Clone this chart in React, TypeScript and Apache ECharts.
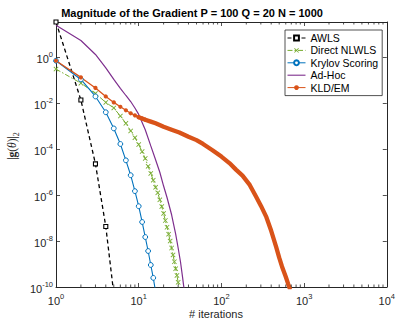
import React, { useEffect, useRef } from "react";
import * as echarts from "echarts";

// ---- data (iterations, gradient magnitudes) ----
const awlsIter = [1, 2, 3, 4, 5];
const awlsVal = [35, 1.4e-2, 2.3e-5, 4.3e-8, 5e-11];

const nlwlsIter = [1, 2, 3, 4, 5, 6, 7, 8, 9, 10, 11, 12, 13, 14, 15, 16, 17, 18, 19, 20, 21, 22, 23, 24, 25, 26, 27, 28, 29, 30, 31];
const nlwlsVal = [0.31, 7.6e-2, 2.7e-2, 1.1e-2, 6.3e-3, 2.8e-3, 1.35e-3, 6.3e-4, 3.2e-4, 1.6e-4, 7.9e-5, 4.0e-5, 1.8e-5, 8.9e-6, 4.5e-6, 2.2e-6, 1.26e-6, 6.3e-7, 3.2e-7, 1.6e-7, 7.9e-8, 4.0e-8, 2.0e-8, 1.0e-8, 5.0e-9, 2.5e-9, 1.26e-9, 6.3e-10, 3.2e-10, 1.6e-10, 7.9e-11];

const krylovIter = [1, 2, 3, 4, 5, 6, 7, 8, 9, 10, 11, 12, 13, 14, 15, 16];
const krylovVal = [0.72, 0.11, 2.0e-2, 4.1e-3, 8.1e-4, 1.7e-4, 3.3e-5, 7.4e-6, 1.5e-6, 3.3e-7, 6.8e-8, 1.5e-8, 3.7e-9, 9.1e-10, 2.5e-10, 6.3e-11];

const adhocIter = [1, 2, 3, 4, 5, 6, 7, 8, 9, 10, 12, 14, 16, 18, 20, 22, 25, 28, 30, 32, 34, 35, 36];
const adhocVal = [25, 5.5, 1.35, 0.35, 0.11, 4.5e-2, 2.2e-2, 1.2e-2, 6.3e-3, 3.3e-3, 7.1e-4, 1.4e-4, 3.5e-5, 1.0e-5, 2.5e-6, 7.9e-7, 1.4e-7, 2.0e-8, 5.0e-9, 1.26e-9, 2.5e-10, 1.1e-10, 5.0e-11];

const kldIter = [1, 2, 3, 4, 5, 6, 7, 8, 9, 10, 11, 12, 14, 16, 20, 25, 31, 40, 50, 60, 78, 100, 125, 150, 180, 220, 263, 300, 350, 400, 460, 500, 540, 600, 640, 670];
const kldVal = [0.72, 0.135, 4.7e-2, 2.0e-2, 1.1e-2, 7.1e-3, 5.0e-3, 3.7e-3, 3.0e-3, 2.5e-3, 2.2e-3, 1.95e-3, 1.6e-3, 1.35e-3, 9.5e-4, 7.1e-4, 5.4e-4, 3.5e-4, 2.5e-4, 1.7e-4, 9.1e-5, 4.8e-5, 2.5e-5, 1.3e-5, 7.1e-6, 2.8e-6, 8.5e-7, 3.5e-7, 1.1e-7, 2.8e-8, 5.5e-9, 1.9e-9, 7.9e-10, 2.8e-10, 1.4e-10, 8.9e-11];
const kldDotsUpTo = 12; // iterations drawn with separate dots

// ---- axes ----
const xTickExps = [0, 1, 2, 3, 4];
const yTickExps = [-10, -8, -6, -4, -2, 0];
const yTopValue = 35;

const seriesNames = ["AWLS", "Direct NLWLS", "Krylov Scoring", "Ad-Hoc", "KLD/EM"];
const FONT = "Liberation Sans";
const AX = "#262626";

const toPts = (it: number[], val: number[]) => it.map((n, i) => [Math.log10(n), Math.log10(val[i])]);

const X_PATH = "path://M0,1.2L1.2,0L5,3.8L8.8,0L10,1.2L6.2,5L10,8.8L8.8,10L5,6.2L1.2,10L0,8.8L3.8,5Z";
const LINE_ICON = "path://M0,0L18,0L18,1.1L0,1.1Z";

export default function App() {
  const ref = useRef<HTMLDivElement>(null);
  useEffect(() => {
    if (!ref.current) return;
    const chart = echarts.init(ref.current, undefined, { renderer: "svg" });
    const yMin = yTickExps[0];
    const yMax = Math.log10(yTopValue);
    const xMin = xTickExps[0];
    const xMax = xTickExps[xTickExps.length - 1];

    const minorTicks: number[][] = [];
    for (let d = xMin; d < xMax; d++) for (let k = 2; k <= 9; k++) minorTicks.push([d + Math.log10(k), yMin]);

    const pow = (isX: boolean) => (v: number) => {
      const r = Math.round(v);
      if (Math.abs(v - r) > 1e-6) return "";
      const list = isX ? xTickExps : yTickExps;
      if (!list.includes(r)) return "";
      return `{b|10}{s|${r}}`;
    };
    const richLabel = {
      b: { fontSize: 11, fontFamily: FONT, color: AX, verticalAlign: "bottom", lineHeight: 14 },
      s: { fontSize: 7.5, fontFamily: FONT, color: AX, verticalAlign: "top", lineHeight: 14 },
    };

    const tickCommon = {
      axisLine: { show: true, onZero: false, lineStyle: { color: AX, width: 1 } },
      axisTick: { show: true, inside: true, length: 4, lineStyle: { color: AX, width: 0.8 } },
      splitLine: { show: false },
    };

    const kldPts = toPts(kldIter, kldVal);
    const kldMain = kldPts.map((p, i) =>
      kldIter[i] <= kldDotsUpTo ? { value: p } : { value: p, symbol: "none" }
    );
    const kldBand = kldPts.filter((_, i) => kldIter[i] >= kldDotsUpTo - 2);

    const option: any = {
      animation: false,
      backgroundColor: "#fff",
      grid: { left: 56, right: 9, top: 22, bottom: 33, containLabel: false },
      xAxis: [
        {
          type: "value", min: xMin, max: xMax, interval: 1, position: "bottom",
          ...tickCommon,
          axisLabel: { formatter: pow(true), rich: richLabel, margin: 5, showMaxLabel: true },
        },
        {
          type: "value", min: xMin, max: xMax, interval: 1, position: "top",
          ...tickCommon, axisLabel: { show: false },
        },
      ],
      yAxis: [
        {
          type: "value", min: yMin, max: yMax, interval: 2, position: "left",
          ...tickCommon,
          axisLabel: { formatter: pow(false), rich: richLabel, margin: 3, showMaxLabel: false },
        },
        {
          type: "value", min: yMin, max: yMax, interval: 2, position: "right",
          ...tickCommon, axisLabel: { show: false },
        },
      ],
      legend: {
        data: seriesNames.map((name) => (name === "Ad-Hoc" ? { name, icon: LINE_ICON } : { name })),
        orient: "vertical",
        left: 285,
        top: 30,
        itemWidth: 18,
        itemHeight: 6,
        itemGap: 1.4,
        padding: [2.5, 4, 2.5, 2],
        borderColor: AX,
        borderWidth: 0.8,
        borderRadius: 0,
        backgroundColor: "#fff",
        lineStyle: { width: 1 },
        textStyle: { fontFamily: FONT, fontSize: 10.5, color: "#000" },
      },
      graphic: [
        {
          type: "text", x: 192, y: 13, z: 10,
          style: {
            text: "Magnitude of the Gradient P = 100 Q = 20 N = 1000",
            fontFamily: FONT, fontSize: 11, fontWeight: "bold", fill: "#000",
            align: "center", verticalAlign: "middle",
          },
        },
        {
          type: "text", x: 216, y: 314, z: 10,
          style: {
            text: "# iterations", fontFamily: FONT, fontSize: 11, fill: AX,
            align: "center", verticalAlign: "middle",
          },
        },
        {
          type: "text", x: 13, y: 146, rotation: Math.PI / 2, z: 10,
          style: {
            text: "{n||}{g|g}{n|(}{t|θ}{n|)|}{sub|2}",
            align: "center", verticalAlign: "middle",
            rich: {
              n: { fontFamily: "Liberation Serif", fontSize: 11.5, fill: AX, verticalAlign: "top", lineHeight: 15 },
              g: { fontFamily: "Liberation Serif", fontSize: 11.5, fontWeight: "bold", fill: AX, verticalAlign: "top", lineHeight: 15 },
              t: { fontFamily: "Liberation Serif", fontSize: 11.5, fontStyle: "italic", fill: AX, verticalAlign: "top", lineHeight: 15 },
              sub: { fontFamily: "Liberation Serif", fontSize: 8, fill: AX, verticalAlign: "bottom", lineHeight: 15 },
            },
          },
        },
      ],
      series: [
        {
          type: "custom", name: "minorTicks", silent: true, z: 5,
          xAxisIndex: 0, yAxisIndex: 0,
          data: minorTicks,
          renderItem: (params: any, api: any) => {
            const x = api.value(0);
            const b = api.coord([x, yMin]);
            const t = api.coord([x, yMax]);
            const st = { stroke: AX, lineWidth: 0.8 };
            return {
              type: "group",
              children: [
                { type: "line", shape: { x1: b[0], y1: b[1], x2: b[0], y2: b[1] - 2.5 }, style: st },
                { type: "line", shape: { x1: t[0], y1: t[1], x2: t[0], y2: t[1] + 2.5 }, style: st },
              ],
            };
          },
        },
        {
          name: "AWLS", type: "line", data: toPts(awlsIter, awlsVal), clip: true,
          symbol: "rect", symbolSize: 4,
          lineStyle: { color: "#000", width: 1.3, type: [4, 3] },
          itemStyle: { color: "#fff", borderColor: "#000", borderWidth: 1.1 },
        },
        {
          name: "Direct NLWLS", type: "line", data: toPts(nlwlsIter, nlwlsVal), clip: true,
          symbol: X_PATH, symbolSize: 5,
          lineStyle: { color: "#77AC30", width: 1, type: [5, 2, 1.5, 2] },
          itemStyle: { color: "#77AC30" },
        },
        {
          name: "Krylov Scoring", type: "line", data: toPts(krylovIter, krylovVal), clip: true,
          symbol: "circle", symbolSize: 4.8,
          lineStyle: { color: "#0072BD", width: 1.1 },
          itemStyle: { color: "#fff", borderColor: "#0072BD", borderWidth: 1 },
        },
        {
          name: "Ad-Hoc", type: "line", data: toPts(adhocIter, adhocVal), clip: true,
          symbol: "none", showSymbol: false,
          lineStyle: { color: "#7E2F8E", width: 1.2 },
          itemStyle: { color: "#7E2F8E" },
        },
        {
          name: "KLD/EM", type: "line", data: kldMain, clip: true,
          symbol: "circle", symbolSize: 4.2,
          lineStyle: { color: "#D95319", width: 1.3 },
          itemStyle: { color: "#D95319" },
        },
        {
          name: "KLD/EM", type: "line", data: kldBand, clip: true,
          symbol: "none", showSymbol: false,
          lineStyle: { color: "#D95319", width: 4.3, cap: "round", join: "round" },
          itemStyle: { color: "#D95319" },
        },
      ],
    };
    chart.setOption(option);
    return () => chart.dispose();
  }, []);
  return <div ref={ref} style={{ position: "fixed", left: 0, top: 0, width: 398, height: 320 }} />;
}
